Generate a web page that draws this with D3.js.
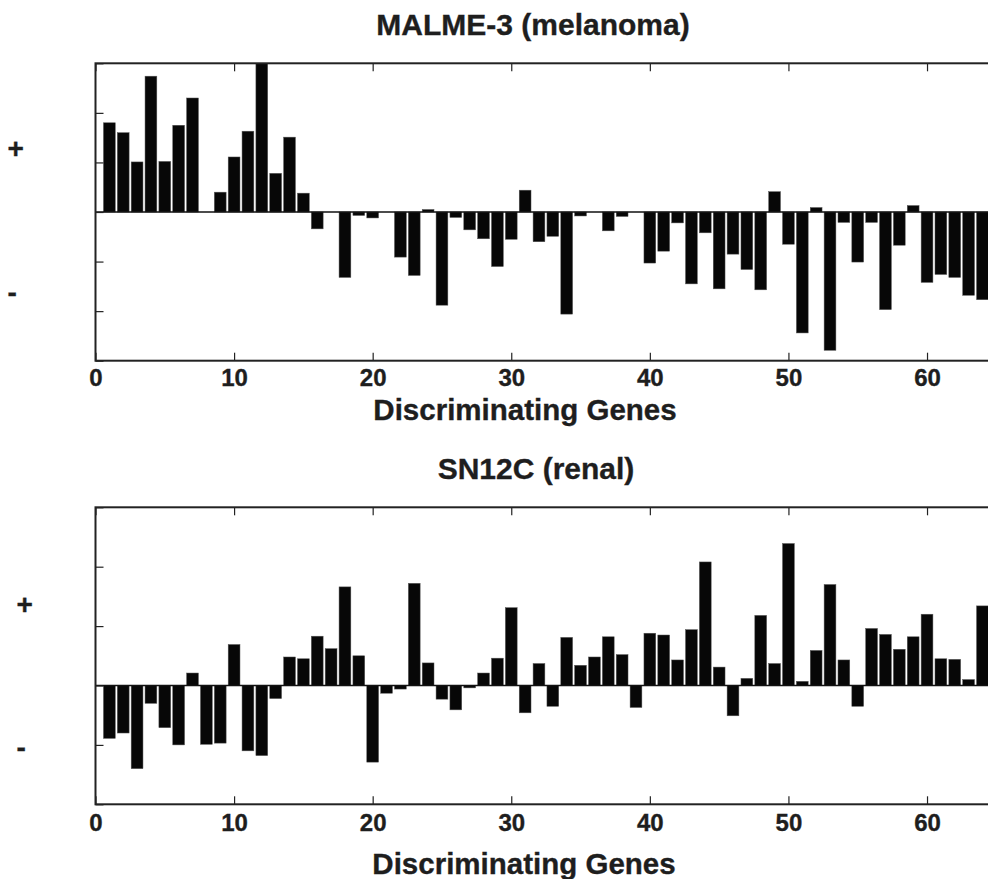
<!DOCTYPE html>
<html>
<head>
<meta charset="utf-8">
<script src="https://cdn.jsdelivr.net/npm/d3@7"></script>
<style>
  html, body { margin: 0; padding: 0; background: #fff; }
  svg { display: block; }
  text { font-family: "Liberation Sans", Arial, Helvetica, sans-serif; font-weight: bold; fill: #1e1e1e; stroke: #1e1e1e; stroke-width: 0.35px; }
</style>
</head>
<body>
<svg id="chart" width="988" height="879"></svg>
<script>
// ---------- data ----------
const genes = d3.range(1, 65);   // discriminating gene index 1..64
const xTicks = [0, 10, 20, 30, 40, 50, 60];

const titleTop = "MALME-3 (melanoma)";
const valuesTop = [
  1.80, 1.60, 1.01, 2.74, 1.02, 1.75, 2.30, 0.00, 0.40, 1.11,
  1.63, 3.00, 0.78, 1.51, 0.38, -0.34, 0.00, -1.32, -0.07, -0.12,
  0.00, -0.91, -1.28, 0.05, -1.88, -0.11, -0.36, -0.54, -1.10, -0.55,
  0.44, -0.60, -0.49, -2.06, -0.08, 0.00, -0.38, -0.09, 0.00, -1.03,
  -0.79, -0.22, -1.45, -0.42, -1.55, -0.85, -1.16, -1.57, 0.41, -0.65,
  -2.44, 0.09, -2.79, -0.21, -1.01, -0.21, -1.97, -0.67, 0.13, -1.42,
  -1.26, -1.32, -1.68, -1.77
];

const titleBottom = "SN12C (renal)";
const valuesBottom = [
  -0.89, -0.80, -1.40, -0.30, -0.71, -1.00, 0.21, -0.99, -0.97, 0.69,
  -1.10, -1.18, -0.22, 0.48, 0.45, 0.83, 0.62, 1.66, 0.50, -1.29,
  -0.13, -0.06, 1.72, 0.38, -0.23, -0.41, -0.04, 0.21, 0.46, 1.31,
  -0.46, 0.37, -0.35, 0.81, 0.34, 0.48, 0.82, 0.52, -0.37, 0.88,
  0.85, 0.43, 0.94, 2.08, 0.31, -0.51, 0.12, 1.18, 0.37, 2.39,
  0.07, 0.59, 1.70, 0.43, -0.35, 0.96, 0.86, 0.61, 0.82, 1.20,
  0.45, 0.44, 0.10, 1.34
];

const xLabel = "Discriminating Genes";
const plusLabel = "+";
const minusLabel = "-";

// ---------- drawing ----------
const svg = d3.select("#chart");
const left = 95.5, right = 988;
const x = d3.scaleLinear().domain([0, 64.4]).range([left, right]);
const barW = 0.85;

function panel(cfg) {
  const { values, title, yDomain, yRange, titleY, tickLabelY, xLabelY, plusPos, minusPos, xLabelX, titleX } = cfg;
  const y = d3.scaleLinear().domain(yDomain).range(yRange);
  const g = svg.append("g");

  // bars
  const bw = x(barW) - x(0);
  g.selectAll("rect.bar").data(genes).join("rect")
    .attr("class", "bar")
    .attr("x", d => x(d) - bw / 2)
    .attr("width", bw)
    .attr("y", (d, i) => y(Math.max(0, values[i])))
    .attr("height", (d, i) => Math.abs(y(values[i]) - y(0)))
    .attr("fill", "#070707")
    .attr("stroke", "#555")
    .attr("stroke-width", 0.5);

  // baseline at zero
  g.append("line")
    .attr("x1", left).attr("x2", right)
    .attr("y1", y(0)).attr("y2", y(0))
    .attr("stroke", "#111").attr("stroke-width", 1.3);

  // bottom axis ticks + labels
  const axB = g.append("g").attr("transform", `translate(0,${yRange[0]})`)
    .call(d3.axisBottom(x).tickValues(xTicks).tickSizeInner(-8).tickSizeOuter(0).tickFormat(d3.format("d")));
  axB.attr("font-size", null).attr("font-family", null);
  axB.select(".domain").remove();
  axB.selectAll(".tick line").attr("stroke", "#222").attr("stroke-width", 1.2);
  axB.selectAll(".tick text")
    .attr("y", tickLabelY - yRange[0]).attr("dy", 0)
    .attr("fill", null)
    .style("font-size", "24px").style("font-weight", "bold");

  // top axis ticks (no labels)
  const axT = g.append("g").attr("transform", `translate(0,${yRange[1]})`)
    .call(d3.axisTop(x).tickValues(xTicks).tickSizeInner(-8).tickSizeOuter(0).tickFormat(""));
  axT.select(".domain").remove();
  axT.selectAll(".tick line").attr("stroke", "#222").attr("stroke-width", 1.2);

  // left axis ticks (no labels)
  const axL = g.append("g").attr("transform", `translate(${left},0)`)
    .call(d3.axisLeft(y).ticks(yDomain[1] - yDomain[0]).tickSizeInner(-8).tickSizeOuter(0).tickFormat(""));
  axL.select(".domain").remove();
  axL.selectAll(".tick line").attr("stroke", "#222").attr("stroke-width", 1.2);

  // frame
  g.append("rect")
    .attr("x", left).attr("y", yRange[1])
    .attr("width", right - left + 10).attr("height", yRange[0] - yRange[1])
    .attr("fill", "none").attr("stroke", "#222").attr("stroke-width", 2);

  // title
  g.append("text").attr("x", titleX).attr("y", titleY)
    .attr("text-anchor", "middle").style("font-size", "30px").text(title);

  // x label
  g.append("text").attr("x", xLabelX).attr("y", xLabelY)
    .attr("text-anchor", "middle").style("font-size", "29.5px").text(xLabel);

  // +/- labels
  g.append("text").attr("x", plusPos[0]).attr("y", plusPos[1])
    .style("font-size", "28px").text(plusLabel);
  g.append("text").attr("x", minusPos[0]).attr("y", minusPos[1])
    .style("font-size", "28px").text(minusLabel);
}

panel({
  values: valuesTop, title: titleTop,
  yDomain: [-3, 3], yRange: [360.7, 63.3],
  titleX: 533, titleY: 35,
  tickLabelY: 386.5, xLabelX: 525, xLabelY: 420,
  plusPos: [7.5, 158], minusPos: [7.5, 302]
});

panel({
  values: valuesBottom, title: titleBottom,
  yDomain: [-2, 3], yRange: [804.3, 507.3],
  titleX: 536, titleY: 479,
  tickLabelY: 831.5, xLabelX: 524, xLabelY: 874,
  plusPos: [16.5, 614], minusPos: [16.5, 757]
});
</script>
</body>
</html>
